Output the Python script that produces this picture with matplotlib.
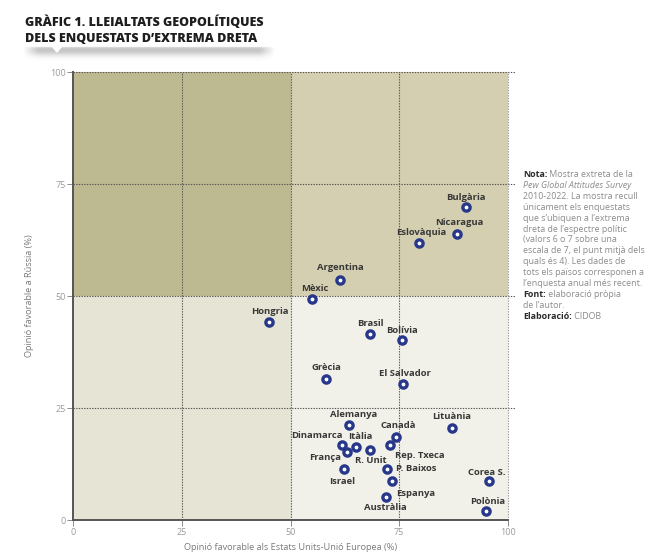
import matplotlib
matplotlib.use('Agg')
import matplotlib.pyplot as plt
import numpy as np
from matplotlib.patches import Rectangle, Polygon

# ---------------- data ----------------
countries = ['Bulgària', 'Nicaragua', 'Eslovàquia', 'Argentina', 'Mèxic', 'Hongria',
             'Brasil', 'Bolívia', 'Grècia', 'El Salvador', 'Alemanya', 'Canadà',
             'Lituània', 'Dinamarca', 'Itàlia', 'França', 'R. Unit', 'Rep. Txeca',
             'P. Baixos', 'Israel', 'Espanya', 'Austràlia', 'Corea S.', 'Polònia']
fav_usa_eu = [90.4, 88.3, 79.6, 61.5, 54.9, 45.0, 68.3, 75.6, 58.2, 75.9, 63.4, 74.2,
              87.2, 61.9, 65.1, 63.1, 68.2, 72.8, 72.1, 62.4, 73.4, 71.9, 95.7, 94.9]
fav_russia = [69.9, 63.9, 61.8, 53.7, 49.3, 44.3, 41.5, 40.2, 31.6, 30.4, 21.2, 18.6,
              20.6, 16.7, 16.3, 15.1, 15.6, 16.7, 11.4, 11.3, 8.7, 5.1, 8.6, 2.0]
ticks = [0, 25, 50, 75, 100]
tick_labels = ['0', '25', '50', '75', '100']

# label placement (pixel offsets, alignment) -- layout only
label_pos = {
    'Bulgària': (0, 10, 'center'), 'Nicaragua': (2, 11, 'center'),
    'Eslovàquia': (2, 10.5, 'center'), 'Argentina': (0, 12, 'center'),
    'Mèxic': (3.5, 10.5, 'center'), 'Hongria': (1.5, 10.5, 'center'),
    'Brasil': (0.7, 11, 'center'), 'Bolívia': (0.6, 9.5, 'center'),
    'Grècia': (0, 11.5, 'center'), 'El Salvador': (1.7, 10.5, 'center'),
    'Alemanya': (5.4, 11, 'center'), 'Canadà': (2.3, 11.5, 'center'),
    'Lituània': (0, 11, 'center'), 'Dinamarca': (0.6, 9.6, 'right'),
    'Itàlia': (4.6, 10.3, 'center'), 'França': (-6.7, -5.4, 'right'),
    'R. Unit': (1.7, -10.7, 'center'), 'Rep. Txeca': (5, -10.7, 'left'),
    'P. Baixos': (9, 0, 'left'), 'Israel': (-2, -12.4, 'center'),
    'Espanya': (4, -12, 'left'), 'Austràlia': (-0.7, -10, 'center'),
    'Corea S.': (-2.3, 9, 'center'), 'Polònia': (1.7, 9.3, 'center'),
}

W, H = 669, 555
fig = plt.figure(figsize=(W / 100, H / 100), dpi=100)
FONT = 'Open Sans'

# ---------------- title + shadow ----------------
sx0, sy0, sw, sh = 20, 44, 258, 20
shadow_ax = fig.add_axes([sx0 / W, 1 - (sy0 + sh) / H, sw / W, sh / H])
shadow_ax.set_axis_off()
ny, nx = 60, 300
yy = np.linspace(0, 1, ny)[:, None]
xx = np.linspace(0, 1, nx)[None, :]
prof_y = np.exp(-((yy - 0.3) / 0.28) ** 2)
prof_y[yy[:, 0] < 0.15] = 0
prof_x = np.clip(np.minimum((xx - 0.01) / 0.06, (0.99 - xx) / 0.06), 0, 1)
alpha = 0.32 * prof_y * prof_x
img = np.zeros((ny, nx, 4))
img[..., 0] = img[..., 1] = img[..., 2] = 0.3
img[..., 3] = alpha
shadow_ax.imshow(img, aspect='auto', extent=[0, 1, 1, 0], interpolation='bilinear')
shadow_ax.set_xlim(0, 1); shadow_ax.set_ylim(1, 0)
fig.patches.append(Polygon([(52 / W, 1 - 46 / H), (62 / W, 1 - 46 / H), (57 / W, 1 - 52 / H)],
                           closed=True, transform=fig.transFigure, color='white', zorder=1))

fig.text(25 / W, 1 - 22 / H, 'GRÀFIC 1. LLEIALTATS GEOPOLÍTIQUES', fontsize=9.0,
         fontweight='heavy', family=FONT, color='#1e1e1e', va='center', ha='left')
fig.text(25 / W, 1 - 39.5 / H, 'DELS ENQUESTATS D’EXTREMA DRETA', fontsize=9.0,
         fontweight='heavy', family=FONT, color='#1e1e1e', va='center', ha='left')

# ---------------- main axes ----------------
ax = fig.add_axes([73.3 / W, 1 - 520 / H, (507.7 - 73.3) / W, (520 - 72.3) / H])
ax.set_xlim(0, 100)
ax.set_ylim(0, 100)
ax.add_patch(Rectangle((0, 50), 50, 50, color='#bdb991', zorder=0, lw=0))
ax.add_patch(Rectangle((50, 50), 50, 50, color='#d4cfb0', zorder=0, lw=0))
ax.add_patch(Rectangle((0, 0), 50, 50, color='#e6e4d4', zorder=0, lw=0))
ax.add_patch(Rectangle((50, 0), 50, 50, color='#f2f1e9', zorder=0, lw=0))

for t in ticks[1:]:
    ax.plot([0, 101.7], [t, t], ls=(0, (1.2, 1.2)), color='#555555', lw=0.8,
            zorder=1, clip_on=False)
    ax.plot([t, t], [0, 100], ls=(0, (1.2, 1.2)),
            color='#555555' if t < 100 else '#999999', lw=0.8, zorder=1, clip_on=False)

for s in ['top', 'right']:
    ax.spines[s].set_visible(False)
for s in ['left', 'bottom']:
    ax.spines[s].set_color('#555555')
    ax.spines[s].set_linewidth(1.4)
    ax.spines[s].set_zorder(3)

ax.set_xticks(ticks)
ax.set_xticklabels(tick_labels)
ax.set_yticks(ticks)
ax.set_yticklabels(tick_labels)
ax.tick_params(length=4, width=0.6, color='#777777', labelsize=6.5,
               labelcolor='#9a9a9a', pad=1.5)
for lab in ax.get_xticklabels() + ax.get_yticklabels():
    lab.set_family(FONT)

fig.text(290.5 / W, 1 - 548 / H, 'Opinió favorable als Estats Units-Unió Europea (%)',
         fontsize=6.6, color='#7a7a7a', family=FONT, ha='center', va='center')
fig.text(30 / W, 1 - 296 / H, 'Opinió favorable a Rússia (%)', fontsize=6.6,
         color='#7a7a7a', family=FONT, ha='center', va='center', rotation=90)

ax.scatter(fav_usa_eu, fav_russia, s=27, facecolor='white', edgecolor='#27388a',
           linewidth=2.4, zorder=5, clip_on=False)

for name, x, y in zip(countries, fav_usa_eu, fav_russia):
    dx, dy, ha = label_pos[name]
    ax.annotate(name, (x, y), xytext=(dx, dy), textcoords='offset pixels',
                ha=ha, va='center', fontsize=6.8, fontweight='bold',
                family=FONT, color='#383838', zorder=6)

# ---------------- note ----------------
note_lines = [
    [('Nota:', 'bold', 'normal'), (' Mostra extreta de la', 'normal', 'normal')],
    [('Pew Global Attitudes Survey', 'normal', 'italic')],
    [('2010-2022. La mostra recull', 'normal', 'normal')],
    [('únicament els enquestats', 'normal', 'normal')],
    [('que s’ubiquen a l’extrema', 'normal', 'normal')],
    [('dreta de l’espectre polític', 'normal', 'normal')],
    [('(valors 6 o 7 sobre una', 'normal', 'normal')],
    [('escala de 7, el punt mitjà dels', 'normal', 'normal')],
    [('quals és 4). Les dades de', 'normal', 'normal')],
    [('tots els països corresponen a', 'normal', 'normal')],
    [('l’enquesta anual més recent.', 'normal', 'normal')],
    [('Font:', 'bold', 'normal'), (' elaboració pròpia', 'normal', 'normal')],
    [('de l’autor.', 'normal', 'normal')],
    [('Elaboració:', 'bold', 'normal'), (' CIDOB', 'normal', 'normal')],
]
fig.canvas.draw()
renderer = fig.canvas.get_renderer()
y0 = 174.5
for i, parts in enumerate(note_lines):
    xpix = 523
    ypix = y0 + i * 10.9
    for txt, weight, style in parts:
        color = '#2a2a2a' if weight == 'bold' else '#8c8c8c'
        t = fig.text(xpix / W, 1 - ypix / H, txt, fontsize=6.4, fontweight=weight,
                     style=style, family=FONT, color=color, va='center', ha='left')
        bb = t.get_window_extent(renderer)
        xpix += bb.width

fig.savefig('out.png', dpi=100)
